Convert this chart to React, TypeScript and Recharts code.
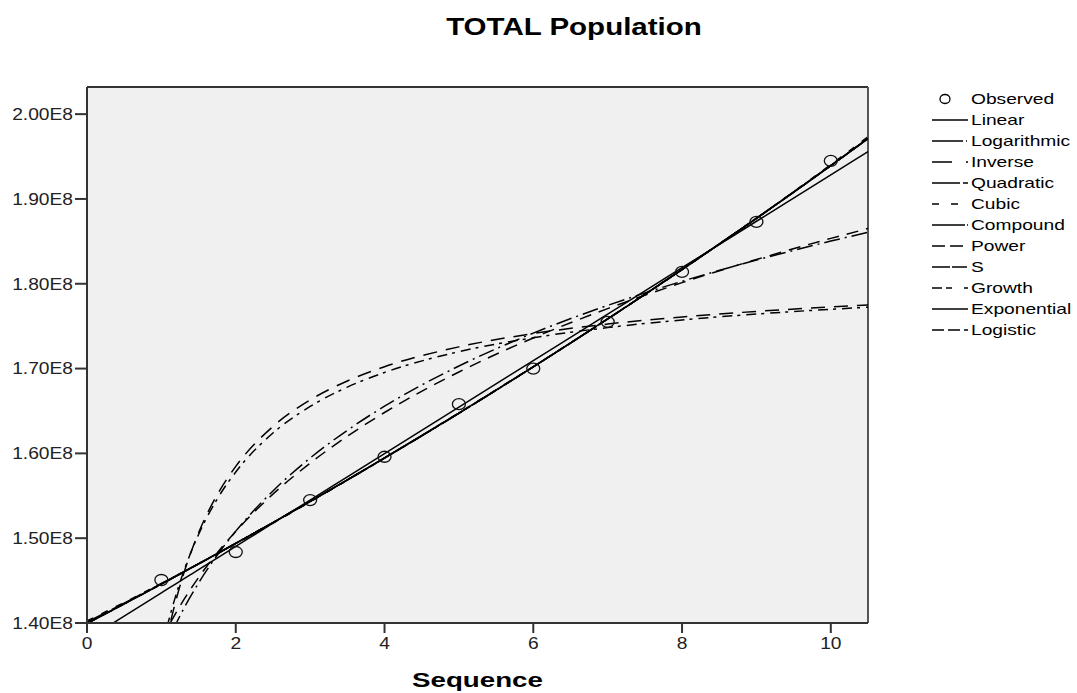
import React from 'react';
import { ComposedChart, Line, Scatter, XAxis, YAxis, CartesianGrid, ReferenceLine } from 'recharts';

const sequence = [0, 0.5, 1, 1.1, 1.2, 1.3, 1.4, 1.5, 1.75, 2, 2.5, 3, 3.5, 4, 5, 6, 7, 8, 9, 10, 10.5];

// fitted curves, population in millions
const linearFit = [138.07, 140.81, 143.55, 144.1, 144.64, 145.19, 145.74, 146.29, 147.66, 149.03, 151.77, 154.5, 157.24, 159.98, 165.46, 170.94, 176.42, 181.89, 187.37, 192.85, 195.59];
const logarithmicFit = [null, null, 136.1, 138.13, 139.97, 141.68, 143.25, 144.72, 147.99, 150.83, 155.57, 159.45, 162.72, 165.56, 170.3, 174.18, 177.45, 180.29, 182.79, 185.03, 186.07];
const inverseFit = [null, null, 134.98, 139.25, 142.81, 145.82, 148.4, 150.64, 155.11, 158.47, 163.17, 166.3, 168.54, 170.22, 172.56, 174.13, 175.25, 176.09, 176.74, 177.26, 177.49];
const quadraticFit = [140.1, 142.35, 144.65, 145.12, 145.59, 146.06, 146.53, 147.0, 148.19, 149.4, 151.83, 154.32, 156.85, 159.43, 164.72, 170.2, 175.86, 181.71, 187.74, 193.96, 197.13];
const cubicFit = [140.25, 142.42, 144.66, 145.11, 145.57, 146.03, 146.49, 146.95, 148.13, 149.33, 151.77, 154.28, 156.84, 159.45, 164.78, 170.24, 175.85, 181.66, 187.72, 194.05, 197.32];
const powerFit = [null, null, 138.0, 139.7, 141.26, 142.72, 144.08, 145.36, 148.26, 150.81, 155.19, 158.85, 162.02, 164.82, 169.6, 173.61, 177.07, 180.13, 182.86, 185.35, 186.51];
const sCurveFit = [null, null, 136.73, 140.34, 143.42, 146.08, 148.4, 150.44, 154.61, 157.81, 162.4, 165.53, 167.81, 169.54, 171.99, 173.64, 174.83, 175.73, 176.43, 176.99, 177.23];
// compound, growth, exponential and logistic fits coincide
const growthFamilyFit = [139.95, 142.25, 144.59, 145.06, 145.54, 146.01, 146.49, 146.97, 148.17, 149.39, 151.84, 154.34, 156.88, 159.46, 164.74, 170.21, 175.85, 181.68, 187.71, 193.93, 197.12];

// observed values
const observedSequence = [1, 2, 3, 4, 5, 6, 7, 8, 9, 10];
const observedPopulation = [145.07, 148.37, 154.5, 159.6, 165.8, 170.0, 175.5, 181.4, 187.3, 194.5];

// axes
const xTicks = [0, 2, 4, 6, 8, 10];
const xTickLabels = ['0', '2', '4', '6', '8', '10'];
const yTicks = [140, 150, 160, 170, 180, 190, 200];
const yTickLabels = ['1.40E8', '1.50E8', '1.60E8', '1.70E8', '1.80E8', '1.90E8', '2.00E8'];
const xDomain = [0, 10.5];
const yDomain = [140, 203.2];

const seriesNames = ['Linear', 'Logarithmic', 'Inverse', 'Quadratic', 'Cubic', 'Compound', 'Power', 'S', 'Growth', 'Exponential', 'Logistic'];
const seriesValues = [linearFit, logarithmicFit, inverseFit, quadraticFit, cubicFit, growthFamilyFit, powerFit, sCurveFit, growthFamilyFit, growthFamilyFit, growthFamilyFit];
const plotDash = ['', '16 5 2 5', '14 9', '24 4 5 4', '7 9', '30 3 1 3', '12 8', '10 5 3 6', '10 4 6 10', '', '12 5'];
const legendDash = ['', '31 3 1 3', '20 14', '28 3 5 3', '7 12', '33 2 1 2', '13 5', '18 2 15 2', '10 4 6 12', '', '12 4'];

const rows = sequence.map((x, i) => {
  const r: Record<string, number | null> = { x };
  seriesNames.forEach((n, k) => {
    r[n] = seriesValues[k][i];
  });
  return r;
});

const observed = observedSequence.map((x, i) => ({ x, y: observedPopulation[i] }));

const FONT = '"Liberation Sans", Arial, Helvetica, sans-serif';

const YTick = (p: any) => {
  const { x, y, payload } = p;
  const idx = yTicks.indexOf(payload.value);
  return (
    <text
      x={x}
      y={y}
      dy="0.36em"
      textAnchor="end"
      fontSize={16}
      fontFamily={FONT}
      fill="#222"
      transform={`translate(${x} ${y}) scale(1.2 1) translate(${-x} ${-y})`}
    >
      {yTickLabels[idx]}
    </text>
  );
};

const XTick = (p: any) => {
  const { x, y, payload } = p;
  const idx = xTicks.indexOf(payload.value);
  return (
    <text
      x={x}
      y={y}
      dy="0.71em"
      textAnchor="middle"
      fontSize={16}
      fontFamily={FONT}
      fill="#222"
      transform={`translate(${x} ${y}) scale(1.2 1) translate(${-x} ${-y})`}
    >
      {xTickLabels[idx]}
    </text>
  );
};

const ObservedMark = (p: any) => (
  <ellipse cx={p.cx} cy={p.cy} rx={6.5} ry={5.5} fill="none" stroke="#111" strokeWidth={1.3} />
);

const LEG_X0 = 932;
const LEG_X1 = 968;
const LEG_TX = 971;
const LEG_Y0 = 99;
const LEG_DY = 21;

export default function App() {
  return (
    <div style={{ position: 'absolute', left: 0, top: 0, width: 1077, height: 693, background: '#fff', fontFamily: FONT }}>
      <ComposedChart
        width={1077}
        height={693}
        data={rows}
        margin={{ top: 87, right: 209, bottom: 30, left: 7 }}
      >
        <CartesianGrid fill="#f0f0f0" horizontal={false} vertical={false} />
        <XAxis
          type="number"
          dataKey="x"
          domain={xDomain}
          ticks={xTicks}
          allowDataOverflow
          height={40}
          tickSize={10}
          tickMargin={5}
          axisLine={{ stroke: '#333', strokeWidth: 2 }}
          tickLine={{ stroke: '#333', strokeWidth: 2 }}
          tick={(p: any) => <XTick {...p} />}
        />
        <YAxis
          type="number"
          domain={yDomain}
          ticks={yTicks}
          allowDataOverflow
          width={80}
          tickSize={12}
          tickMargin={2}
          axisLine={{ stroke: '#333', strokeWidth: 2 }}
          tickLine={{ stroke: '#333', strokeWidth: 2 }}
          tick={(p: any) => <YTick {...p} />}
        />
        <ReferenceLine y={yDomain[1]} stroke="#333" strokeWidth={2} />
        <ReferenceLine x={xDomain[1]} stroke="#555" strokeWidth={2} />
        {seriesNames.map((n, k) => (
          <Line
            key={n}
            dataKey={n}
            type="monotone"
            stroke="#000"
            strokeWidth={1.5}
            strokeDasharray={plotDash[k] || undefined}
            dot={false}
            activeDot={false}
            connectNulls={false}
            isAnimationActive={false}
          />
        ))}
        <Scatter data={observed} dataKey="y" shape={(p: any) => <ObservedMark {...p} />} isAnimationActive={false} />
      </ComposedChart>
      <svg width={1077} height={693} style={{ position: 'absolute', left: 0, top: 0, pointerEvents: 'none' }}>
        <text
          x={574}
          y={35}
          textAnchor="middle"
          fontSize={24}
          fontWeight="bold"
          fontFamily={FONT}
          fill="#000"
          transform="translate(574 35) scale(1.23 1) translate(-574 -35)"
        >
          TOTAL Population
        </text>
        <text
          x={477.5}
          y={687}
          textAnchor="middle"
          fontSize={21}
          fontWeight="bold"
          fontFamily={FONT}
          fill="#000"
          transform="translate(477.5 687) scale(1.32 1) translate(-477.5 -687)"
        >
          Sequence
        </text>
        <g>
          <ellipse cx={945} cy={LEG_Y0} rx={5} ry={4.5} fill="none" stroke="#000" strokeWidth={1.3} />
          <text
            x={LEG_TX}
            y={LEG_Y0 + 5.5}
            fontSize={15}
            fontFamily={FONT}
            fill="#000"
            transform={`translate(${LEG_TX} ${LEG_Y0}) scale(1.28 1) translate(${-LEG_TX} ${-LEG_Y0})`}
          >
            Observed
          </text>
          {seriesNames.map((n, k) => {
            const cy = LEG_Y0 + LEG_DY * (k + 1);
            return (
              <g key={n}>
                <line
                  x1={LEG_X0}
                  x2={LEG_X1}
                  y1={cy}
                  y2={cy}
                  stroke="#000"
                  strokeWidth={1.4}
                  strokeDasharray={legendDash[k] || undefined}
                />
                <text
                  x={LEG_TX}
                  y={cy + 5.5}
                  fontSize={15}
                  fontFamily={FONT}
                  fill="#000"
                  transform={`translate(${LEG_TX} ${cy}) scale(1.28 1) translate(${-LEG_TX} ${-cy})`}
                >
                  {n}
                </text>
              </g>
            );
          })}
        </g>
      </svg>
    </div>
  );
}
